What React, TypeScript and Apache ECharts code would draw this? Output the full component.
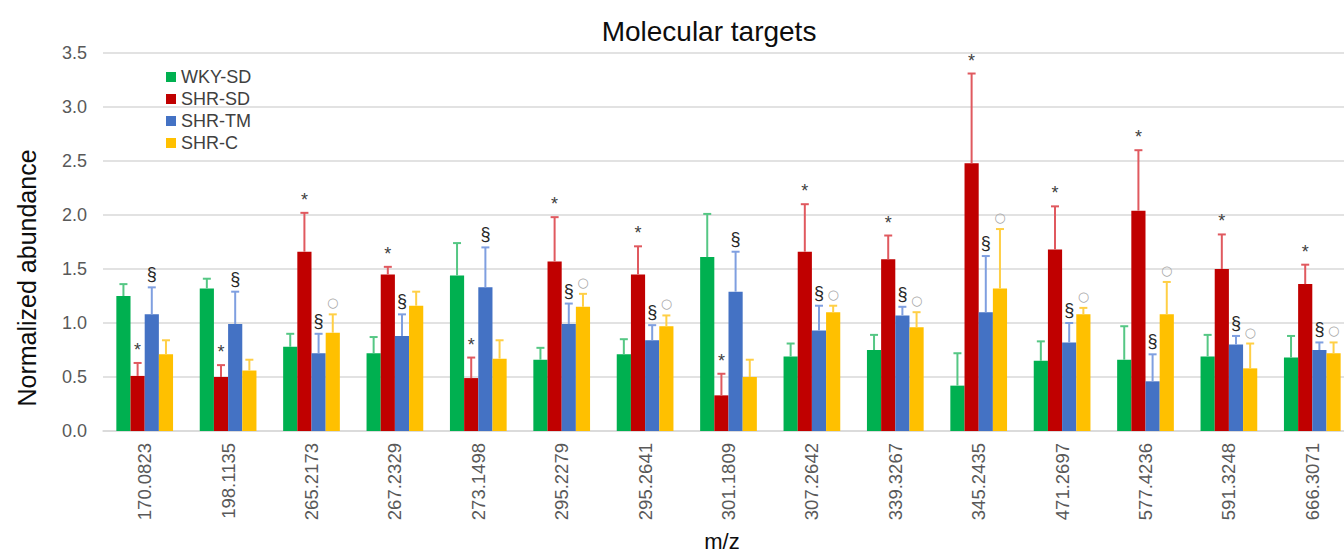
import React, { useEffect, useRef } from "react";
import * as echarts from "echarts";

// m/z values of the molecular targets
const categories = [
  "170.0823", "198.1135", "265.2173", "267.2329", "273.1498",
  "295.2279", "295.2641", "301.1809", "307.2642", "339.3267",
  "345.2435", "471.2697", "577.4236", "591.3248", "666.3071",
];

const seriesNames = ["WKY-SD", "SHR-SD", "SHR-TM", "SHR-C"];

// mean normalized abundance per group
const wkySd = [1.25, 1.32, 0.78, 0.72, 1.44, 0.66, 0.71, 1.61, 0.69, 0.75, 0.42, 0.65, 0.66, 0.69, 0.68];
const shrSd = [0.51, 0.50, 1.66, 1.45, 0.49, 1.57, 1.45, 0.33, 1.66, 1.59, 2.48, 1.68, 2.04, 1.50, 1.36];
const shrTm = [1.08, 0.99, 0.72, 0.88, 1.33, 0.99, 0.84, 1.29, 0.93, 1.07, 1.10, 0.82, 0.46, 0.80, 0.75];
const shrC = [0.71, 0.56, 0.91, 1.16, 0.67, 1.15, 0.97, 0.50, 1.10, 0.96, 1.32, 1.08, 1.08, 0.58, 0.72];

// upper error (SD) per group
const wkySdErr = [0.11, 0.09, 0.12, 0.15, 0.30, 0.11, 0.14, 0.40, 0.12, 0.14, 0.30, 0.18, 0.31, 0.20, 0.20];
const shrSdErr = [0.12, 0.11, 0.36, 0.07, 0.19, 0.41, 0.26, 0.20, 0.44, 0.22, 0.83, 0.40, 0.56, 0.32, 0.18];
const shrTmErr = [0.25, 0.30, 0.18, 0.20, 0.37, 0.19, 0.14, 0.37, 0.23, 0.08, 0.52, 0.18, 0.25, 0.08, 0.07];
const shrCErr = [0.13, 0.10, 0.17, 0.13, 0.17, 0.12, 0.10, 0.16, 0.06, 0.14, 0.55, 0.06, 0.30, 0.23, 0.10];

// significance marks drawn above the error bars
const wkySdMarks = ["", "", "", "", "", "", "", "", "", "", "", "", "", "", ""];
const shrSdMarks = ["*", "*", "*", "*", "*", "*", "*", "*", "*", "*", "*", "*", "*", "*", "*"];
const shrTmMarks = ["§", "§", "§", "§", "§", "§", "§", "§", "§", "§", "§", "§", "§", "§", "§"];
const shrCMarks = ["", "", "○", "", "", "○", "○", "", "○", "○", "○", "○", "○", "○", "○"];

const yTicks = [0, 0.5, 1, 1.5, 2, 2.5, 3, 3.5];

const FONT = "'Liberation Sans', Arial, Helvetica, sans-serif";
const barColors = ["#00b050", "#c00000", "#4472c4", "#ffc000"];
const errColors = ["#55c784", "#e0595f", "#7f9fe0", "#ffcf45"];
const markColors: Record<string, string> = { "*": "#404040", "§": "#262626", "○": "#a6a6a6" };
const BAR_FRACTION = 0.68;

export default function App() {
  const ref = useRef<HTMLDivElement>(null);

  useEffect(() => {
    document.body.style.margin = "0";
    if (!ref.current) return;
    const chart = echarts.init(ref.current, null, { renderer: "svg" });

    const values = [wkySd, shrSd, shrTm, shrC];
    const errs = [wkySdErr, shrSdErr, shrTmErr, shrCErr];
    const marks = [wkySdMarks, shrSdMarks, shrTmMarks, shrCMarks];

    const barSeries = seriesNames.map((name, k) => ({
      name,
      type: "bar",
      data: values[k],
      barGap: "0%",
      barCategoryGap: "32%",
      itemStyle: { color: barColors[k] },
      z: 2,
    }));

    const errorSeries = seriesNames.map((name, k) => ({
      name: name + " error",
      type: "custom",
      z: 3,
      data: values[k].map((v, i) => [i, v, v + errs[k][i]]),
      encode: { x: 0, y: [1, 2] },
      renderItem: (params: any, api: any) => {
        const idx = api.value(0);
        const v = api.value(1);
        const top = api.value(2);
        const band = api.size([1, 0])[0];
        const bw = (band * BAR_FRACTION) / 4;
        const center = api.coord([idx, 0])[0];
        const cx = center + (k - 1.5) * bw;
        const yv = api.coord([idx, v])[1];
        const ye = api.coord([idx, top])[1];
        const children: any[] = [
          {
            type: "line",
            shape: { x1: cx, y1: yv, x2: cx, y2: ye },
            style: { stroke: errColors[k], lineWidth: 2 },
          },
          {
            type: "line",
            shape: { x1: cx - 4, y1: ye, x2: cx + 4, y2: ye },
            style: { stroke: errColors[k], lineWidth: 2 },
          },
        ];
        const m = marks[k][params.dataIndex];
        if (m) {
          const isCircle = m === "○";
          children.push({
            type: "text",
            x: cx,
            y: ye - (isCircle ? 5 : 4),
            style: {
              text: m,
              fill: markColors[m],
              font: `${isCircle ? 13 : 18}px ${isCircle ? "'DejaVu Sans', sans-serif" : FONT}`,
              textAlign: "center",
              textVerticalAlign: "bottom",
            },
          });
        }
        return { type: "group", children };
      },
    }));

    chart.setOption({
      animation: false,
      title: {
        text: "Molecular targets",
        left: 704,
        textAlign: "center",
        top: 12,
        textStyle: { fontFamily: FONT, fontSize: 28, fontWeight: "normal", color: "#0d0d0d" },
      },
      legend: {
        data: seriesNames,
        orient: "vertical",
        left: 161,
        top: 63,
        icon: "rect",
        itemWidth: 10,
        itemHeight: 10,
        itemGap: 4,
        textStyle: { fontFamily: FONT, fontSize: 18, color: "#404040", lineHeight: 18 },
      },
      grid: {
        left: 103,
        top: 53,
        width: 1251,
        bottom: 125,
        containLabel: false,
        outerBoundsMode: "none",
      },
      xAxis: {
        type: "category",
        data: categories,
        axisTick: { show: false },
        axisLine: { lineStyle: { color: "#d9d9d9", width: 1.5 } },
        axisLabel: {
          rotate: 90,
          margin: 12,
          fontFamily: FONT,
          fontSize: 18.5,
          color: "#595959",
        },
      },
      yAxis: {
        type: "value",
        min: yTicks[0],
        max: yTicks[yTicks.length - 1],
        interval: 0.5,
        axisLine: { show: false },
        axisTick: { show: false },
        splitLine: { lineStyle: { color: "#d9d9d9", width: 1.5 } },
        axisLabel: {
          margin: 16,
          fontFamily: FONT,
          fontSize: 18,
          color: "#595959",
          formatter: (v: number) => v.toFixed(1),
        },
      },
      graphic: [
        {
          type: "text",
          x: 27,
          y: 278,
          rotation: Math.PI / 2,
          style: {
            text: "Normalized abundance",
            font: `25px ${FONT}`,
            fill: "#0d0d0d",
            textAlign: "center",
            textVerticalAlign: "middle",
          },
        },
        {
          type: "text",
          x: 722,
          y: 541,
          style: {
            text: "m/z",
            font: `22px ${FONT}`,
            fill: "#0d0d0d",
            textAlign: "center",
            textVerticalAlign: "middle",
          },
        },
      ],
      series: [...barSeries, ...errorSeries],
    });

    return () => chart.dispose();
  }, []);

  return <div ref={ref} style={{ width: 1344, height: 556 }} />;
}
